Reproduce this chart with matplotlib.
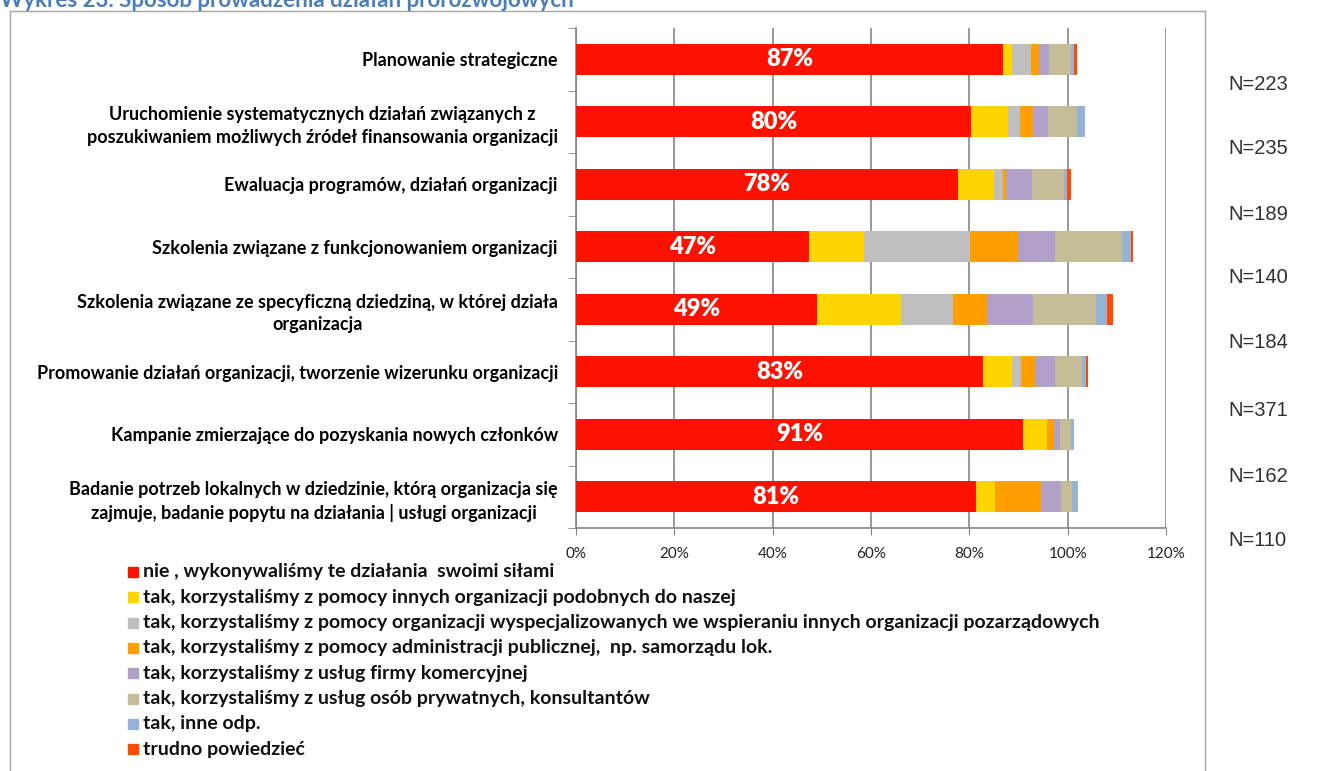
import matplotlib
matplotlib.use("Agg")
import matplotlib.pyplot as plt
from matplotlib.lines import Line2D
from matplotlib.patches import Rectangle
import numpy as np

# ── data (% of respondents) ──────────────────────────────────────
categories = [
    "Planowanie strategiczne",
    "Uruchomienie systematycznych działań związanych z\nposzukiwaniem możliwych źródeł finansowania organizacji",
    "Ewaluacja programów, działań organizacji",
    "Szkolenia związane z funkcjonowaniem organizacji",
    "Szkolenia związane ze specyficzną dziedziną, w której działa\norganizacja",
    "Promowanie działań organizacji, tworzenie wizerunku organizacji",
    "Kampanie zmierzające do pozyskania nowych członków",
    "Badanie potrzeb lokalnych w dziedzinie, którą organizacja się\nzajmuje, badanie popytu na działania | usługi organizacji",
]
n_labels = ["N=223", "N=235", "N=189", "N=140", "N=184", "N=371", "N=162", "N=110"]

series_names = [
    "nie , wykonywaliśmy te działania  swoimi siłami",
    "tak, korzystaliśmy z pomocy innych organizacji podobnych do naszej",
    "tak, korzystaliśmy z pomocy organizacji wyspecjalizowanych we wspieraniu innych organizacji pozarządowych",
    "tak, korzystaliśmy z pomocy administracji publicznej,  np. samorządu lok.",
    "tak, korzystaliśmy z usług firmy komercyjnej",
    "tak, korzystaliśmy z usług osób prywatnych, konsultantów",
    "tak, inne odp.",
    "trudno powiedzieć",
]
nie        = [86.8, 80.3, 77.6, 47.3, 49.0, 82.8, 91.0, 81.3]
podobne    = [1.9, 7.5, 7.4, 11.2, 17.1, 5.9, 4.7, 4.0]
wyspec     = [3.8, 2.5, 1.8, 21.6, 10.5, 1.9, 0.0, 0.0]
admin      = [1.7, 2.6, 0.6, 9.7, 7.0, 2.7, 1.5, 9.2]
firma      = [2.0, 3.1, 5.3, 7.6, 9.3, 4.1, 1.2, 4.2]
prywatne   = [4.4, 5.9, 6.5, 13.7, 12.8, 5.6, 2.3, 2.2]
inne       = [0.6, 1.6, 0.7, 1.7, 2.2, 0.8, 0.5, 1.3]
trudno     = [0.6, 0.0, 0.7, 0.4, 1.3, 0.4, 0.0, 0.0]
bar_labels = ["87%", "80%", "78%", "47%", "49%", "83%", "91%", "81%"]

series = [nie, podobne, wyspec, admin, firma, prywatne, inne, trudno]
colors = ["#FF1100", "#FFD500", "#BFBFBF", "#FF9E00",
          "#B1A0C7", "#C4BD97", "#95B3D7", "#FF4A00"]

FONT = ["Lato", "DejaVu Sans"]
W, H = 1321, 771

fig = plt.figure(figsize=(W / 100, H / 100), dpi=100)
ax = fig.add_axes([576 / W, 1 - 528 / H, 590 / W, 500 / H])

y = np.arange(len(categories))
left = np.zeros(len(categories))
for vals, col in zip(series, colors):
    v = np.array(vals) / 100
    ax.barh(y, v, left=left, height=0.49, color=col, edgecolor="none", zorder=3)
    left += v

# white % labels centred on the red segment
for i, (v, lab) in enumerate(zip(nie, bar_labels)):
    ax.text(v / 200, i, lab, ha="center", va="center", color="white",
            fontsize=17, fontweight="heavy", family=FONT, zorder=4)

ax.set_ylim(len(categories) - 0.5, -0.5)
ax.set_xlim(0, 1.2)
ax.set_xticks(np.arange(0, 1.21, 0.2))
ax.set_xticklabels([f"{int(round(t * 100))}%" for t in np.arange(0, 1.21, 0.2)],
                   fontsize=11, color="#222222", family=FONT)
ax.tick_params(axis="x", length=5, color="#868686", pad=9)
ax.xaxis.grid(True, color="#868686", linewidth=1.2, zorder=0)
ax.set_yticks(y)
ax.set_yticklabels(categories, fontsize=13, fontweight="bold", family=FONT,
                   multialignment="center", linespacing=1.4)
ax.set_yticks(np.arange(-0.5, len(categories), 1.0), minor=True)
ax.tick_params(axis="y", which="major", length=0, pad=13)
ax.tick_params(axis="y", which="minor", length=6, color="#868686")
for s in ["top", "right"]:
    ax.spines[s].set_visible(False)
for s in ["left", "bottom"]:
    ax.spines[s].set_color("#868686")
    ax.spines[s].set_linewidth(1.2)

# N= labels on the right
n_y = [84, 149, 214, 277, 343, 410, 476, 541]
for yy, t in zip(n_y, n_labels):
    fig.text(1228 / W, 1 - yy / H, t, ha="left", va="center", fontsize=14.5,
             color="#303030", family="Liberation Sans")

# legend drawn by hand
leg_y0, leg_dy = 572, 25.3
for i, (name, col) in enumerate(zip(series_names, colors)):
    yy = leg_y0 + i * leg_dy
    fig.patches.append(Rectangle((128 / W, 1 - (yy + 5) / H), 10 / W, 10 / H,
                                 transform=fig.transFigure, color=col))
    fig.text(143 / W, 1 - yy / H, name, ha="left", va="center", fontsize=14,
             fontweight="bold", family=FONT, color="#111111")

# outer chart frame
frame = dict(color="#A6A6A6", linewidth=1.0, transform=fig.transFigure)
fig.add_artist(Line2D([10 / W, 10 / W], [0, 1 - 11 / H], **frame))
fig.add_artist(Line2D([10 / W, 1205 / W], [1 - 11 / H, 1 - 11 / H], **frame))
fig.add_artist(Line2D([1205 / W, 1205 / W], [0, 1 - 11 / H], **frame))

# chart title, cut off at the top edge as in the source
fig.text(0, 1 - 7 / H, "Wykres 23. Sposób prowadzenia działań prorozwojowych",
         ha="left", va="baseline", fontsize=16, fontweight="bold",
         color="#4A7EBB", family=FONT)

fig.savefig("out.png", dpi=100)
